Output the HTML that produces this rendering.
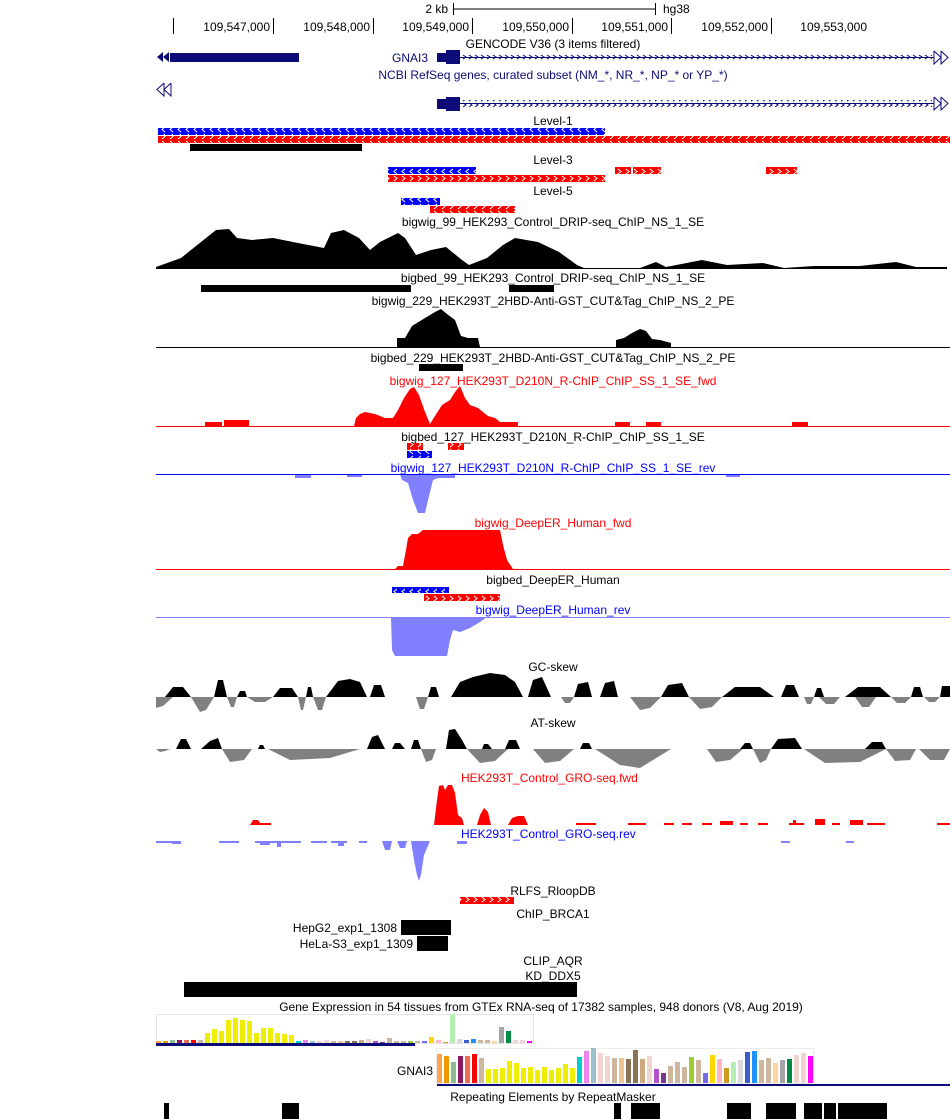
<!DOCTYPE html>
<html><head><meta charset="utf-8"><style>
html,body{margin:0;padding:0;background:#fff;}
svg{display:block;font-family:"Liberation Sans",sans-serif;font-size:12px;}
</style></head><body>
<svg width="950" height="1119" viewBox="0 0 950 1119" xmlns="http://www.w3.org/2000/svg">
<defs>
<pattern id="pr" width="8" height="7" patternUnits="userSpaceOnUse"><rect width="8" height="7" fill="#f00"/><polyline points="2,1 5,3.5 2,6" fill="none" stroke="#fff" stroke-width="1"/></pattern>
<pattern id="pb" width="8" height="7" patternUnits="userSpaceOnUse"><rect width="8" height="7" fill="#00f"/><polyline points="5,1 2,3.5 5,6" fill="none" stroke="#fff" stroke-width="1"/></pattern>
<pattern id="pg" width="6" height="6" patternUnits="userSpaceOnUse"><polyline points="1,1 4,3 1,5" fill="none" stroke="#00007f" stroke-width="1"/></pattern>
</defs>
<g fill="#000">
<!-- ruler -->
<text x="448" y="13" text-anchor="end">2 kb</text>
<line x1="453" y1="9" x2="655" y2="9" stroke="#000"/>
<line x1="453.5" y1="3" x2="453.5" y2="15" stroke="#000"/>
<line x1="655.5" y1="3" x2="655.5" y2="15" stroke="#000"/>
<text x="663" y="13">hg38</text>
<g stroke="#000"><line x1="173.5" y1="18" x2="173.5" y2="34"/><line x1="273.5" y1="18" x2="273.5" y2="34"/><line x1="373.5" y1="18" x2="373.5" y2="34"/><line x1="472.5" y1="18" x2="472.5" y2="34"/><line x1="572.5" y1="18" x2="572.5" y2="34"/><line x1="671.5" y1="18" x2="671.5" y2="34"/><line x1="771.5" y1="18" x2="771.5" y2="34"/></g>
<g text-anchor="end"><text x="270" y="31">109,547,000</text><text x="370" y="31">109,548,000</text><text x="469" y="31">109,549,000</text><text x="569" y="31">109,550,000</text><text x="668" y="31">109,551,000</text><text x="768" y="31">109,552,000</text><text x="867" y="31">109,553,000</text></g>

<!-- genes -->
<text x="553" y="48" text-anchor="middle">GENCODE V36 (3 items filtered)</text>
<rect x="170" y="53" width="129" height="9" fill="#0c0c78"/>
<polygon points="157,57 163,52 163,62" fill="#0c0c78"/><polygon points="163,57 169,52 169,62" fill="#0c0c78"/>
<text x="428" y="62" text-anchor="end" fill="#0c0c78">GNAI3</text>
<rect x="437" y="53" width="10" height="9" fill="#0c0c78"/>
<rect x="446" y="50" width="14" height="14" fill="#0c0c78"/>
<line x1="460" y1="57.5" x2="934" y2="57.5" stroke="#0c0c78"/>
<rect x="462" y="54" width="470" height="7" fill="url(#pg)"/>
<polyline points="934,51 941,57.5 934,64 934,51" fill="none" stroke="#0c0c78"/><polyline points="941,51 948,57.5 941,64 941,51" fill="none" stroke="#0c0c78"/>
<text x="553" y="79" text-anchor="middle" fill="#0c0c78">NCBI RefSeq genes, curated subset (NM_*, NR_*, NP_* or YP_*)</text>
<polyline points="164,83 157,89.5 164,96 164,83" fill="none" stroke="#0c0c78"/><polyline points="171,83 164,89.5 171,96 171,83" fill="none" stroke="#0c0c78"/>
<rect x="437" y="99" width="10" height="10" fill="#0c0c78"/>
<rect x="446" y="97" width="14" height="14" fill="#0c0c78"/>
<line x1="460" y1="103.5" x2="934" y2="103.5" stroke="#0c0c78"/>
<rect x="462" y="100" width="470" height="7" fill="url(#pg)"/>
<polyline points="934,97 941,103.5 934,110 934,97" fill="none" stroke="#0c0c78"/><polyline points="941,97 948,103.5 941,110 941,97" fill="none" stroke="#0c0c78"/>

<!-- levels -->
<text x="553" y="125" text-anchor="middle">Level-1</text>
<rect x="158" y="128" width="447" height="7" fill="url(#pb)"/>
<rect x="158" y="136" width="792" height="7" fill="url(#pr)"/>
<rect x="190" y="144" width="172" height="7"/>
<text x="553" y="164" text-anchor="middle">Level-3</text>
<rect x="388" y="167" width="88" height="7" fill="url(#pb)"/>
<rect x="388" y="175" width="217" height="7" fill="url(#pr)"/>
<rect x="615" y="167" width="16" height="7" fill="url(#pr)"/>
<rect x="633" y="167" width="28" height="7" fill="url(#pr)"/>
<rect x="766" y="167" width="31" height="7" fill="url(#pr)"/>
<text x="553" y="195" text-anchor="middle">Level-5</text>
<rect x="401" y="198" width="39" height="7" fill="url(#pb)"/>
<rect x="430" y="206" width="85" height="7" fill="url(#pr)"/>

<!-- DRIP -->
<text x="553" y="226" text-anchor="middle">bigwig_99_HEK293_Control_DRIP-seq_ChIP_NS_1_SE</text>
<polygon points="156,268 156,267 181,258 201,242 216,230 229,229 237,238 252,240 273,238 298,243 324,248 331,233 344,230 359,238 370,250 380,242 398,233 405,238 416,255 431,250 446,247 462,260 469,265 487,258 503,245 515,238 538,242 559,252 577,265 584,268 640,268 656,262 666,267 702,260 727,265 763,263 784,268 814,266 860,266 896,262 916,267 947,267 947,269 156,269"/>
<text x="553" y="282" text-anchor="middle">bigbed_99_HEK293_Control_DRIP-seq_ChIP_NS_1_SE</text>
<rect x="201" y="285" width="210" height="7"/><rect x="509" y="285" width="45" height="7"/>
<text x="553" y="305" text-anchor="middle">bigwig_229_HEK293T_2HBD-Anti-GST_CUT&amp;Tag_ChIP_NS_2_PE</text>
<polygon points="397,347 397,338 405,338 412,326 425,318 435,312 441,309 447,314 455,320 461,336 468,338 478,338 480,347"/>
<polygon points="616,347 616,340 624,338 632,333 640,329 646,331 652,339 660,340 671,343 671,347"/>
<line x1="156" y1="347.5" x2="950" y2="347.5" stroke="#000"/>
<text x="553" y="362" text-anchor="middle">bigbed_229_HEK293T_2HBD-Anti-GST_CUT&amp;Tag_ChIP_NS_2_PE</text>
<rect x="419" y="364" width="44" height="7"/>

<!-- R-ChIP -->
<text x="553" y="385" text-anchor="middle" fill="#f00">bigwig_127_HEK293T_D210N_R-ChIP_ChIP_SS_1_SE_fwd</text>
<g fill="#f00">
<polygon points="354,426 356,418 360,414 365,412 375,414 385,418 393,418 398,410 404,398 410,389 414,387 419,395 425,412 430,424 435,416 442,405 450,400 455,392 460,386 465,398 470,405 478,408 488,416 495,418 500,422 518,422 518,426"/>
<rect x="205" y="422" width="17" height="4"/><rect x="224" y="420" width="25" height="6"/><rect x="615" y="422" width="15" height="4"/><rect x="646" y="422" width="15" height="4"/><rect x="792" y="422" width="16" height="4"/>
<line x1="156" y1="426.5" x2="950" y2="426.5" stroke="#f00"/>
</g>
<text x="553" y="441" text-anchor="middle">bigbed_127_HEK293T_D210N_R-ChIP_ChIP_SS_1_SE</text>
<rect x="407" y="443" width="16" height="7" fill="url(#pr)"/><rect x="448" y="443" width="16" height="7" fill="url(#pr)"/>
<rect x="407" y="451" width="25" height="7" fill="url(#pb)"/>
<text x="553" y="472" text-anchor="middle" fill="#00f">bigwig_127_HEK293T_D210N_R-ChIP_ChIP_SS_1_SE_rev</text>
<g fill="#8080ff">
<polygon points="400,474 402,480 408,483 413,500 418,513 425,513 430,492 433,480 438,478 455,477 455,474"/>
<rect x="295" y="474" width="16" height="4"/><rect x="347" y="474" width="15" height="3"/><rect x="439" y="474" width="16" height="4"/><rect x="726" y="474" width="14" height="3"/>
</g>
<line x1="156" y1="474.5" x2="950" y2="474.5" stroke="#00f"/>

<!-- DeepER -->
<text x="553" y="527" text-anchor="middle" fill="#f00">bigwig_DeepER_Human_fwd</text>
<polygon fill="#f00" points="395,569 398,566 403,566 406,550 408,538 412,534 418,534 423,530 440,530 500,530 503,545 507,560 513,569"/>
<line x1="156" y1="569.5" x2="950" y2="569.5" stroke="#f00"/>
<text x="553" y="584" text-anchor="middle">bigbed_DeepER_Human</text>
<rect x="392" y="587" width="57" height="6" fill="url(#pb)"/>
<rect x="424" y="594" width="76" height="7" fill="url(#pr)"/>
<text x="553" y="614" text-anchor="middle" fill="#00f">bigwig_DeepER_Human_rev</text>
<polygon fill="#8080ff" points="391,617 392,650 395,656 447,656 450,640 453,630 460,632 470,628 480,622 487,617"/>
<line x1="156" y1="617.5" x2="950" y2="617.5" stroke="#8080ff"/>

<!-- GC skew -->
<text x="553" y="671" text-anchor="middle">GC-skew</text>
<g fill="#000">
<polygon points="165,697 173,687 183,687 191,697"/><polygon points="214,697 218,680 223,680 227,697"/><polygon points="237,697 240,691 245,691 247,697"/><polygon points="273,697 280,688 292,688 298,697"/><polygon points="306,697 308,687 311,687 313,697"/><polygon points="326,697 338,681 350,679 360,682 367,697"/><polygon points="370,697 374,685 381,685 385,697"/><polygon points="428,697 431,687 436,687 439,697"/><polygon points="451,697 460,682 473,677 490,673 505,675 515,682 523,697"/><polygon points="528,697 533,680 542,677 551,697"/><polygon points="574,697 578,684 588,682 592,697"/><polygon points="600,697 605,683 614,681 618,697"/><polygon points="661,697 668,685 682,683 689,697"/><polygon points="722,697 735,687 760,687 774,697"/><polygon points="781,697 786,685 794,685 799,697"/><polygon points="814,697 817,688 821,688 824,697"/><polygon points="845,697 858,687 880,687 891,697"/><polygon points="911,697 914,687 920,687 923,697"/><polygon points="940,697 942,686 950,686 950,697"/>
</g>
<g fill="#808080">
<polygon points="156,697 156,708 163,706 173,697"/><polygon points="191,697 200,712 206,710 214,697"/><polygon points="227,697 231,707 234,707 237,697"/><polygon points="247,697 255,702 265,702 273,697"/><polygon points="298,697 301,710 303,710 306,697"/><polygon points="313,697 318,710 322,710 326,697"/><polygon points="416,697 420,709 424,709 428,697"/><polygon points="561,697 565,703 570,703 574,697"/><polygon points="630,697 640,710 650,708 661,697"/><polygon points="689,697 700,709 712,707 722,697"/><polygon points="804,697 807,704 811,704 814,697"/><polygon points="819,697 826,704 834,704 840,697"/><polygon points="855,697 862,707 869,707 876,697"/><polygon points="891,697 897,703 905,703 911,697"/><polygon points="924,697 929,702 935,702 940,697"/>
</g>

<!-- AT skew -->
<text x="553" y="727" text-anchor="middle">AT-skew</text>
<g fill="#000">
<polygon points="176,749 181,739 186,739 191,749"/><polygon points="201,749 210,741 218,738 222,749"/><polygon points="258,749 260,745 263,745 265,749"/><polygon points="367,749 372,737 378,735 385,749"/><polygon points="392,749 395,743 400,743 405,749"/><polygon points="411,749 414,740 418,740 421,749"/><polygon points="446,749 449,730 455,729 462,740 467,749"/><polygon points="482,749 484,744 488,744 492,749"/><polygon points="505,749 509,740 516,740 520,749"/><polygon points="580,749 583,743 589,743 592,749"/><polygon points="740,749 745,743 750,743 753,749"/><polygon points="771,749 778,739 795,738 802,749"/><polygon points="865,749 872,742 882,742 886,749"/>
</g>
<g fill="#808080">
<polygon points="222,749 230,762 244,760 252,749"/><polygon points="268,749 290,760 330,758 360,749"/><polygon points="421,749 426,762 432,760 436,749"/><polygon points="467,749 480,763 495,761 508,749"/><polygon points="533,749 545,763 560,761 574,749"/><polygon points="595,749 620,765 640,768 671,749"/><polygon points="707,749 716,762 730,760 743,749"/><polygon points="753,749 760,763 766,760 771,749"/><polygon points="804,749 825,763 860,762 886,749"/><polygon points="886,749 895,761 910,760 916,749"/><polygon points="919,749 930,760 944,760 950,749"/><polygon points="156,749 160,752 165,751 170,749"/>
</g>

<!-- GRO-seq -->
<text x="461" y="782" fill="#f00">HEK293T_Control_GRO-seq.fwd</text>
<g fill="#f00">
<polygon points="434,825 437,800 439,786 443,785 445,790 448,785 452,785 455,793 458,815 462,818 464,825"/>
<polygon points="477,825 480,815 484,808 488,812 491,825"/>
<polygon points="508,825 512,818 518,816 524,816 528,825"/>
<polygon points="250,825 253,820 258,820 260,823 271,823 271,825"/>
<rect x="576" y="823" width="20" height="2"/><rect x="628" y="823" width="18" height="2"/><rect x="664" y="823" width="10" height="2"/><rect x="682" y="823" width="10" height="2"/><rect x="702" y="823" width="10" height="2"/><rect x="720" y="821" width="13" height="4"/><rect x="740" y="823" width="8" height="2"/><rect x="758" y="823" width="10" height="2"/><rect x="789" y="823" width="15" height="2"/><rect x="793" y="820" width="3" height="3"/><rect x="815" y="819" width="10" height="6"/><rect x="832" y="823" width="8" height="2"/><rect x="850" y="820" width="13" height="5"/><rect x="867" y="823" width="18" height="2"/><rect x="937" y="823" width="13" height="2"/>
</g>
<text x="461" y="838" fill="#00f">HEK293T_Control_GRO-seq.rev</text>
<g fill="#8080ff">
<rect x="156" y="841" width="25" height="2"/><rect x="172" y="841" width="9" height="3"/><rect x="219" y="841" width="20" height="2"/><rect x="255" y="841" width="46" height="2"/><rect x="260" y="841" width="10" height="4"/><rect x="277" y="841" width="4" height="6"/><rect x="311" y="841" width="16" height="2"/><rect x="331" y="841" width="16" height="2"/><rect x="338" y="841" width="6" height="5"/><rect x="359" y="841" width="8" height="2"/>
<polygon points="382,841 385,850 390,850 392,841"/>
<polygon points="397,841 400,848 405,848 407,841"/>
<polygon points="411,841 414,860 417,875 419,881 421,875 424,855 430,841"/>
<rect x="457" y="841" width="10" height="3"/><rect x="781" y="841" width="9" height="2"/><rect x="846" y="841" width="8" height="2"/>
</g>

<!-- misc beds -->
<text x="553" y="895" text-anchor="middle">RLFS_RloopDB</text>
<rect x="460" y="897" width="54" height="7" fill="url(#pr)"/>
<text x="553" y="918" text-anchor="middle">ChIP_BRCA1</text>
<text x="397" y="932" text-anchor="end">HepG2_exp1_1308</text>
<rect x="401" y="920" width="50" height="15"/>
<text x="413" y="948" text-anchor="end">HeLa-S3_exp1_1309</text>
<rect x="417" y="936" width="31" height="15"/>
<text x="553" y="965" text-anchor="middle">CLIP_AQR</text>
<text x="553" y="980" text-anchor="middle">KD_DDX5</text>
<rect x="184" y="982" width="393" height="15"/>

<!-- GTEx -->
<text x="541" y="1011" text-anchor="middle">Gene Expression in 54 tissues from GTEx RNA-seq of 17382 samples, 948 donors (V8, Aug 2019)</text>
<rect x="156.5" y="1014.5" width="377" height="29" fill="none" stroke="#e4e4e4"/>
<g>
<rect x="156" y="1041" width="5" height="2" fill="#FFA54F"/><rect x="163" y="1041" width="5" height="2" fill="#EE9A00"/><rect x="170" y="1040" width="5" height="3" fill="#8FBC8F"/><rect x="177" y="1040" width="5" height="3" fill="#8B1C62"/><rect x="184" y="1040" width="5" height="3" fill="#EE6A50"/><rect x="191" y="1040" width="5" height="3" fill="#FF0000"/><rect x="198" y="1040" width="5" height="3" fill="#CDB79E"/>
<g fill="#EEEE00"><rect x="205" y="1033" width="5" height="10"/><rect x="212" y="1029" width="5" height="14"/><rect x="219" y="1031" width="5" height="12"/><rect x="226" y="1020" width="5" height="23"/><rect x="233" y="1018" width="5" height="25"/><rect x="240" y="1020" width="5" height="23"/><rect x="247" y="1021" width="5" height="22"/><rect x="254" y="1033" width="5" height="10"/><rect x="261" y="1028" width="5" height="15"/><rect x="268" y="1028" width="5" height="15"/><rect x="275" y="1033" width="5" height="10"/><rect x="282" y="1034" width="5" height="9"/><rect x="289" y="1035" width="5" height="8"/></g>
<rect x="296" y="1041" width="5" height="2" fill="#00CDCD"/><rect x="303" y="1040" width="5" height="3" fill="#EE82EE"/><rect x="310" y="1041" width="5" height="2" fill="#9AC0CD"/><rect x="317" y="1041" width="5" height="2" fill="#EED5D2"/><rect x="324" y="1040" width="5" height="3" fill="#EED5D2"/><rect x="331" y="1041" width="5" height="2" fill="#CDB79E"/><rect x="338" y="1041" width="5" height="2" fill="#EEC591"/><rect x="345" y="1041" width="5" height="2" fill="#8B7355"/><rect x="352" y="1041" width="5" height="2" fill="#8B7355"/><rect x="359" y="1040" width="5" height="3" fill="#CDAA7D"/><rect x="366" y="1039" width="5" height="4" fill="#EED5D2"/><rect x="373" y="1041" width="5" height="2" fill="#B452CD"/><rect x="380" y="1042" width="5" height="1" fill="#7A378B"/><rect x="387" y="1038" width="5" height="5" fill="#CDB79E"/><rect x="394" y="1041" width="5" height="2" fill="#CDB79E"/><rect x="401" y="1041" width="5" height="2" fill="#CDB79E"/><rect x="408" y="1041" width="5" height="2" fill="#9ACD32"/><rect x="415" y="1041" width="5" height="2" fill="#CDB79E"/><rect x="422" y="1041" width="5" height="2" fill="#7A67EE"/><rect x="429" y="1037" width="5" height="6" fill="#FFD700"/><rect x="436" y="1040" width="5" height="3" fill="#FFB6C1"/><rect x="443" y="1042" width="5" height="1" fill="#CD9B1D"/><rect x="450" y="1014" width="5" height="29" fill="#B4EEB4"/><rect x="457" y="1039" width="5" height="4" fill="#D9D9D9"/><rect x="464" y="1040" width="5" height="3" fill="#3A5FCD"/><rect x="471" y="1039" width="5" height="4" fill="#1E90FF"/><rect x="478" y="1040" width="5" height="3" fill="#CDB79E"/><rect x="485" y="1040" width="5" height="3" fill="#CDB79E"/><rect x="492" y="1041" width="5" height="2" fill="#FFD39B"/><rect x="499" y="1027" width="5" height="16" fill="#A6A6A6"/><rect x="506" y="1031" width="5" height="12" fill="#008B45"/><rect x="513" y="1040" width="5" height="3" fill="#EED5D2"/><rect x="520" y="1040" width="5" height="3" fill="#EED5D2"/><rect x="527" y="1041" width="5" height="2" fill="#FF00FF"/>
</g>
<rect x="156" y="1043" width="259" height="3" fill="#0c0c78"/>

<text x="433" y="1075" text-anchor="end">GNAI3</text>
<rect x="436.5" y="1048.5" width="377" height="35" fill="none" stroke="#ececec"/>
<g>
<rect x="437" y="1054" width="5" height="29" fill="#FFA54F"/><rect x="444" y="1056" width="5" height="27" fill="#EE9A00"/><rect x="451" y="1062" width="5" height="21" fill="#8FBC8F"/><rect x="458" y="1056" width="5" height="27" fill="#8B1C62"/><rect x="465" y="1056" width="5" height="27" fill="#EE6A50"/><rect x="472" y="1054" width="5" height="29" fill="#FF0000"/><rect x="479" y="1058" width="5" height="25" fill="#CDB79E"/>
<g fill="#EEEE00"><rect x="486" y="1069" width="5" height="14"/><rect x="493" y="1069" width="5" height="14"/><rect x="500" y="1068" width="5" height="15"/><rect x="507" y="1061" width="5" height="22"/><rect x="514" y="1063" width="5" height="20"/><rect x="521" y="1068" width="5" height="15"/><rect x="528" y="1067" width="5" height="16"/><rect x="535" y="1070" width="5" height="13"/><rect x="542" y="1067" width="5" height="16"/><rect x="549" y="1070" width="5" height="13"/><rect x="556" y="1068" width="5" height="15"/><rect x="563" y="1064" width="5" height="19"/><rect x="570" y="1068" width="5" height="15"/></g>
<rect x="577" y="1057" width="5" height="26" fill="#00CDCD"/><rect x="584" y="1051" width="5" height="32" fill="#EE82EE"/><rect x="591" y="1048" width="5" height="35" fill="#9AC0CD"/><rect x="598" y="1053" width="5" height="30" fill="#EED5D2"/><rect x="605" y="1056" width="5" height="27" fill="#EED5D2"/><rect x="612" y="1058" width="5" height="25" fill="#CDB79E"/><rect x="619" y="1058" width="5" height="25" fill="#EEC591"/><rect x="626" y="1059" width="5" height="24" fill="#8B7355"/><rect x="633" y="1050" width="5" height="33" fill="#8B7355"/><rect x="640" y="1059" width="5" height="24" fill="#CDAA7D"/><rect x="647" y="1056" width="5" height="27" fill="#EED5D2"/><rect x="654" y="1069" width="5" height="14" fill="#B452CD"/><rect x="661" y="1073" width="5" height="10" fill="#7A378B"/><rect x="668" y="1066" width="5" height="17" fill="#CDB79E"/><rect x="675" y="1062" width="5" height="21" fill="#CDB79E"/><rect x="682" y="1067" width="5" height="16" fill="#CDB79E"/><rect x="689" y="1057" width="5" height="26" fill="#9ACD32"/><rect x="696" y="1060" width="5" height="23" fill="#CDB79E"/><rect x="703" y="1073" width="5" height="10" fill="#7A67EE"/><rect x="710" y="1055" width="5" height="28" fill="#FFD700"/><rect x="717" y="1059" width="5" height="24" fill="#FFB6C1"/><rect x="724" y="1068" width="5" height="15" fill="#CD9B1D"/><rect x="731" y="1062" width="5" height="21" fill="#B4EEB4"/><rect x="738" y="1060" width="5" height="23" fill="#D9D9D9"/><rect x="745" y="1052" width="5" height="31" fill="#3A5FCD"/><rect x="752" y="1051" width="5" height="32" fill="#1E90FF"/><rect x="759" y="1060" width="5" height="23" fill="#CDB79E"/><rect x="766" y="1058" width="5" height="25" fill="#CDB79E"/><rect x="773" y="1063" width="5" height="20" fill="#FFD39B"/><rect x="780" y="1060" width="5" height="23" fill="#A6A6A6"/><rect x="787" y="1059" width="5" height="24" fill="#008B45"/><rect x="794" y="1055" width="5" height="28" fill="#EED5D2"/><rect x="801" y="1053" width="5" height="30" fill="#EED5D2"/><rect x="808" y="1056" width="5" height="27" fill="#FF00FF"/>
</g>
<rect x="437" y="1084" width="513" height="2" fill="#0c0c78"/>

<!-- repeats -->
<text x="553" y="1101" text-anchor="middle">Repeating Elements by RepeatMasker</text>
<rect x="164" y="1103" width="5" height="16"/><rect x="282" y="1103" width="17" height="16"/><rect x="614" y="1103" width="7" height="16"/><rect x="631" y="1103" width="29" height="16"/><rect x="727" y="1103" width="24" height="16"/><rect x="766" y="1103" width="30" height="16"/><rect x="804" y="1103" width="18" height="16"/><rect x="824" y="1103" width="12" height="16"/><rect x="838" y="1103" width="49" height="16"/>
</g>
</svg>
</body></html>
